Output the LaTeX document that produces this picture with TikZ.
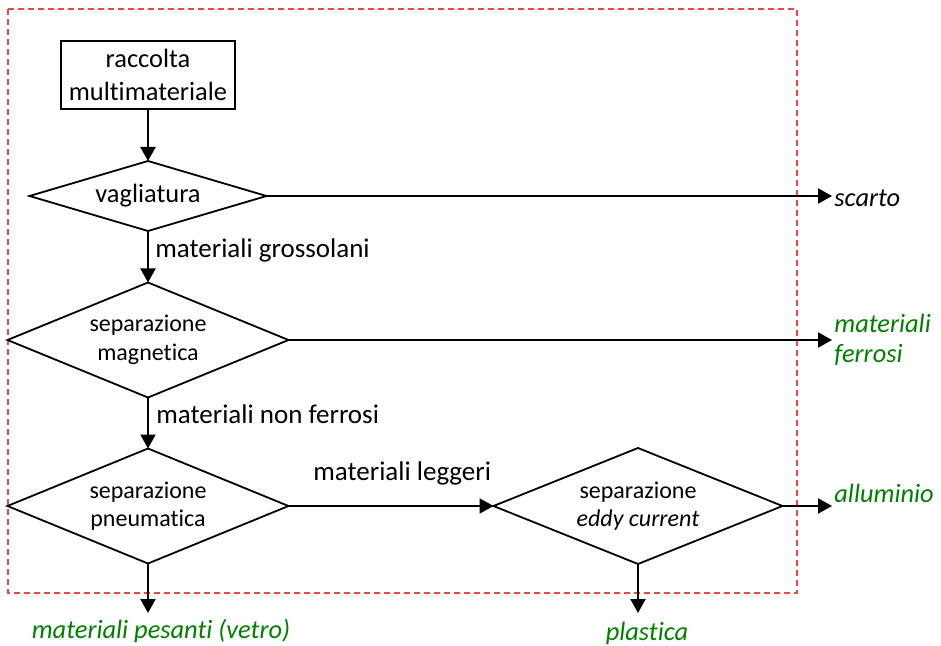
\documentclass[tikz,border=0pt]{standalone}
\usepackage{fontspec}
\setmainfont[Ligatures={NoCommon}]{Carlito}
\usetikzlibrary{shapes.geometric,arrows.meta}
\definecolor{mygreen}{RGB}{0,128,0}
\definecolor{dashred}{RGB}{240,70,70}
\begin{document}
\begin{tikzpicture}[x=0.5pt,y=-0.5pt,
  flow/.style={line width=1pt,-{Triangle[length=7pt,width=7.5pt]}},
  dia/.style={diamond,draw,line width=0.9pt,inner sep=0pt,outer sep=0pt,align=center,font=\fontsize{12}{14.3}\selectfont},
  boxnode/.style={rectangle,draw,line width=0.9pt,inner sep=0pt,outer sep=0pt,align=center,font=\fontsize{13.2}{16.5}\selectfont},
  lbl/.style={anchor=base west,inner sep=0pt,font=\fontsize{13.5}{16}\selectfont},
  outtxt/.style={inner sep=0pt,align=left,font=\fontsize{13.2}{15}\selectfont\itshape,text=mygreen}]
\useasboundingbox (0,0) rectangle (941,646);
\draw[dashred,line width=0.6pt,dash pattern=on 3pt off 2pt] (8,9) rectangle (797,593);

\node[boxnode,minimum width=87pt,minimum height=34pt] (box) at (148,75) {raccolta\\multimateriale};
\node[dia,minimum width=118.5pt,minimum height=35pt,aspect=3.39,font=\fontsize{13.2}{15}\selectfont] (vag) at (148,196) {vagliatura};
\node[dia,minimum width=140.5pt,minimum height=57.5pt,aspect=2.44] (mag) at (148,340) {separazione\\magnetica};
\node[dia,minimum width=140.5pt,minimum height=57.5pt,aspect=2.44] (pne) at (148,506) {separazione\\pneumatica};
\node[dia,minimum width=144.5pt,minimum height=58pt,aspect=2.49] (eddy) at (638,506) {separazione\\\textit{eddy current}};

\coordinate (scartoEnd) at (832,196);
\coordinate (ferEnd) at (832,340);
\coordinate (allEnd) at (832,506);
\coordinate (vetEnd) at (148,613);
\coordinate (plaEnd) at (638,613);

\node[inner sep=0pt,anchor=base west,font=\fontsize{13.2}{15}\selectfont\itshape] (scarto) at (834,207) {scarto};
\node[outtxt,anchor=west] (ferrosi) at (834,340) {materiali\\ferrosi};
\node[outtxt,anchor=base west] (allum) at (834,502) {alluminio};
\node[outtxt,anchor=base] (vetro) at (161,638) {materiali pesanti (vetro)};
\node[outtxt,anchor=base] (plast) at (647,640) {plastica};

\node[lbl] (l1) at (155,258) {materiali grossolani};
\node[lbl] (l2) at (156,423) {materiali non ferrosi};
\node[lbl] (l3) at (313,480) {materiali leggeri};

\draw[flow] (box.south) -- (vag.north);
\draw[flow] (vag.south) -- (mag.north);
\draw[flow] (mag.south) -- (pne.north);
\draw[flow] (pne.east) -- (eddy.west);
\draw[flow] (vag.east) -- (scartoEnd);
\draw[flow] (mag.east) -- (ferEnd);
\draw[flow] (eddy.east) -- (allEnd);
\draw[flow] (pne.south) -- (vetEnd);
\draw[flow] (eddy.south) -- (plaEnd);
\end{tikzpicture}
\end{document}
